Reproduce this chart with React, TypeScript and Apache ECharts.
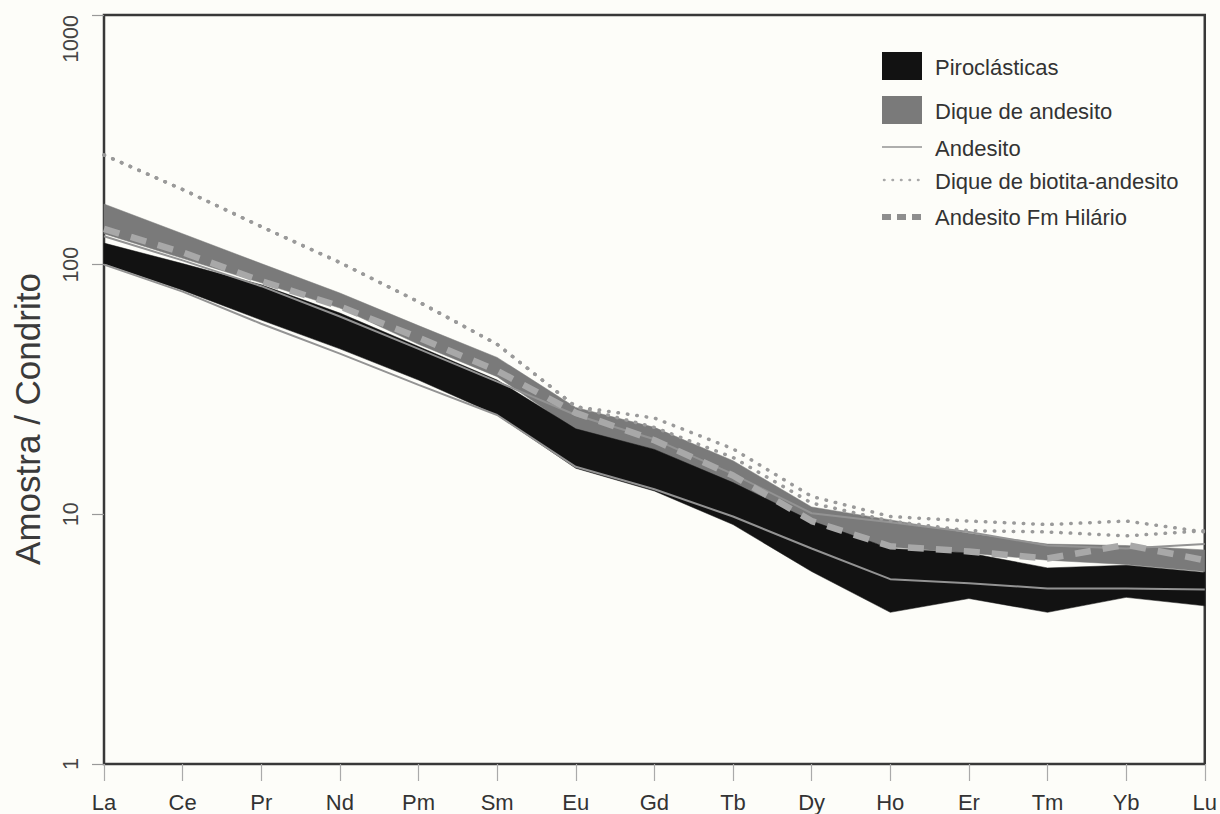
import React, { useEffect, useRef } from "react";
import * as echarts from "echarts";

// REE elements, chondrite-normalised
const elements = ["La", "Ce", "Pr", "Nd", "Pm", "Sm", "Eu", "Gd", "Tb", "Dy", "Ho", "Er", "Tm", "Yb", "Lu"];

// Piroclásticas envelope
const piroUpper = [122, 101, 83, 64, 47, 34.5, 22, 18.2, 13.4, 9.4, 7.3, 7.0, 6.1, 6.25, 5.85];
const piroLower = [101, 79, 60, 46, 34.5, 25, 15.3, 12.4, 9.1, 5.9, 4.05, 4.6, 4.05, 4.65, 4.3];

// Dique de andesito envelope
const diqueUpper = [175, 133, 101, 77, 57, 42.5, 26.8, 22.3, 16.4, 10.7, 9.5, 8.4, 7.6, 7.5, 7.2];
const diqueLower = [133, 106, 84.6, 67, 48, 35.6, 21.7, 18, 13.1, 8.9, 7.4, 7.0, 6.55, 6.3, 5.9];

// Andesito samples
const andesitoA = [130, 104, 82, 62, 46, 34, 25, 20, 14.5, 10.1, 9.3, 8.5, 7.5, 7.3, 7.6];
const andesitoB = [100, 78, 58, 44, 33, 25, 15.5, 12.6, 9.8, 7.3, 5.5, 5.3, 5.05, 5.05, 5.0];

// Dique de biotita-andesito samples
const biotitaA = [275, 200, 142, 102, 71, 48, 27, 24.3, 18.3, 11.8, 9.8, 9.4, 9.1, 9.4, 8.5];
const biotitaB = [275, 200, 142, 102, 71, 48, 27, 22.3, 16.9, 11.1, 9.4, 8.6, 8.5, 8.2, 8.6];

// Andesito Fm Hilário
const hilario = [139, 112, 86, 68, 51, 37.6, 25.5, 19.8, 14.3, 9.4, 7.45, 7.1, 6.65, 7.55, 6.55];

const FONT = "Liberation Sans, Arial, Helvetica, sans-serif";

function bandSeries(name: string, upper: number[], lower: number[], color: string) {
  return {
    type: "custom",
    name,
    coordinateSystem: "cartesian2d",
    silent: true,
    data: upper.map((u, i) => [i, u, lower[i]]),
    encode: { x: 0, y: [1, 2] },
    renderItem: (params: any, api: any) => {
      if (params.dataIndex !== 0) return null;
      const top = upper.map((v, i) => api.coord([i, v]));
      const bottom = lower.map((v, i) => api.coord([i, v])).reverse();
      return {
        type: "polygon",
        shape: { points: top.concat(bottom) },
        style: { fill: color, stroke: color, lineWidth: 0.5 },
      };
    },
  };
}

function lineSeries(name: string, data: number[], lineStyle: any) {
  return {
    type: "line",
    name,
    data,
    symbol: "none",
    silent: true,
    lineStyle,
  };
}

export default function App() {
  const ref = useRef<HTMLDivElement>(null);

  useEffect(() => {
    document.body.style.margin = "0";
    const chart = echarts.init(ref.current!, null, { renderer: "svg" });
    const andesitoStyle = { color: "#939393", width: 2 };
    const biotitaStyle = { color: "#9a9a9a", width: 3.5, type: [0.5, 9], cap: "round" };
    const legendX = 882;
    const textX = 935;
    chart.setOption({
      animation: false,
      backgroundColor: "#fdfdf9",
      grid: {
        left: 104,
        right: 10,
        top: 15,
        bottom: 50,
        show: true,
        borderColor: "#383838",
        borderWidth: 2.5,
        backgroundColor: "transparent",
      },
      xAxis: {
        type: "category",
        data: elements,
        boundaryGap: false,
        axisLine: { show: false },
        axisTick: { show: true, interval: 0, length: 17, lineStyle: { color: "#aaaaaa", width: 1.2 } },
        axisLabel: { interval: 0, margin: 27, fontSize: 22, color: "#333", fontFamily: FONT },
        splitLine: { show: false },
      },
      yAxis: {
        type: "log",
        logBase: 10,
        min: 1,
        max: 1000,
        axisLine: { show: false },
        axisTick: { show: true, length: 12, lineStyle: { color: "#999", width: 1.2 } },
        axisLabel: {
          rotate: 90,
          margin: 22,
          fontSize: 21.5,
          color: "#444",
          fontFamily: FONT,
          alignMaxLabel: "right",
          formatter: (v: number) => String(Math.round(v)),
        },
        splitLine: { show: false },
        minorTick: { show: false },
      },
      series: [
        bandSeries("Dique de andesito", diqueUpper, diqueLower, "#7a7a7a"),
        bandSeries("Piroclásticas", piroUpper, piroLower, "#121212"),
        lineSeries("Andesito", andesitoA, andesitoStyle),
        lineSeries("Andesito", andesitoB, andesitoStyle),
        lineSeries("Andesito Fm Hilário", hilario, { color: "#a8a8a8", width: 6.5, type: [16, 12] }),
        lineSeries("Dique de biotita-andesito", biotitaA, biotitaStyle),
        lineSeries("Dique de biotita-andesito", biotitaB, biotitaStyle),
      ],
      graphic: [
        {
          type: "text",
          x: 27,
          y: 419,
          rotation: Math.PI / 2,
          style: {
            text: "Amostra / Condrito",
            fontSize: 35,
            fontFamily: FONT,
            fill: "#3a3a3a",
            align: "center",
            verticalAlign: "middle",
          },
        },
        { type: "rect", shape: { x: legendX, y: 52, width: 40, height: 28 }, style: { fill: "#121212" } },
        { type: "rect", shape: { x: legendX, y: 96, width: 40, height: 28 }, style: { fill: "#7a7a7a" } },
        {
          type: "line",
          shape: { x1: legendX, y1: 147, x2: legendX + 40, y2: 147 },
          style: { stroke: "#939393", lineWidth: 1.5 },
        },
        {
          type: "line",
          shape: { x1: legendX + 2, y1: 180, x2: legendX + 40, y2: 180 },
          style: { stroke: "#a8a8a8", lineWidth: 2.5, lineDash: [0.5, 8], lineCap: "round" },
        },
        {
          type: "line",
          shape: { x1: legendX, y1: 217, x2: legendX + 40, y2: 217 },
          style: { stroke: "#8e8e8e", lineWidth: 6, lineDash: [9, 6] },
        },
        ...[
          ["Piroclásticas", 67],
          ["Dique de andesito", 111],
          ["Andesito", 148],
          ["Dique de biotita-andesito", 181],
          ["Andesito Fm Hilário", 217],
        ].map(([t, y]) => ({
          type: "text",
          x: textX,
          y: y as number,
          style: {
            text: t as string,
            fontSize: 22,
            fontFamily: FONT,
            fill: "#333",
            align: "left",
            verticalAlign: "middle",
          },
        })),
      ],
    });
    return () => chart.dispose();
  }, []);

  return <div ref={ref} style={{ width: 1220, height: 814 }} />;
}
